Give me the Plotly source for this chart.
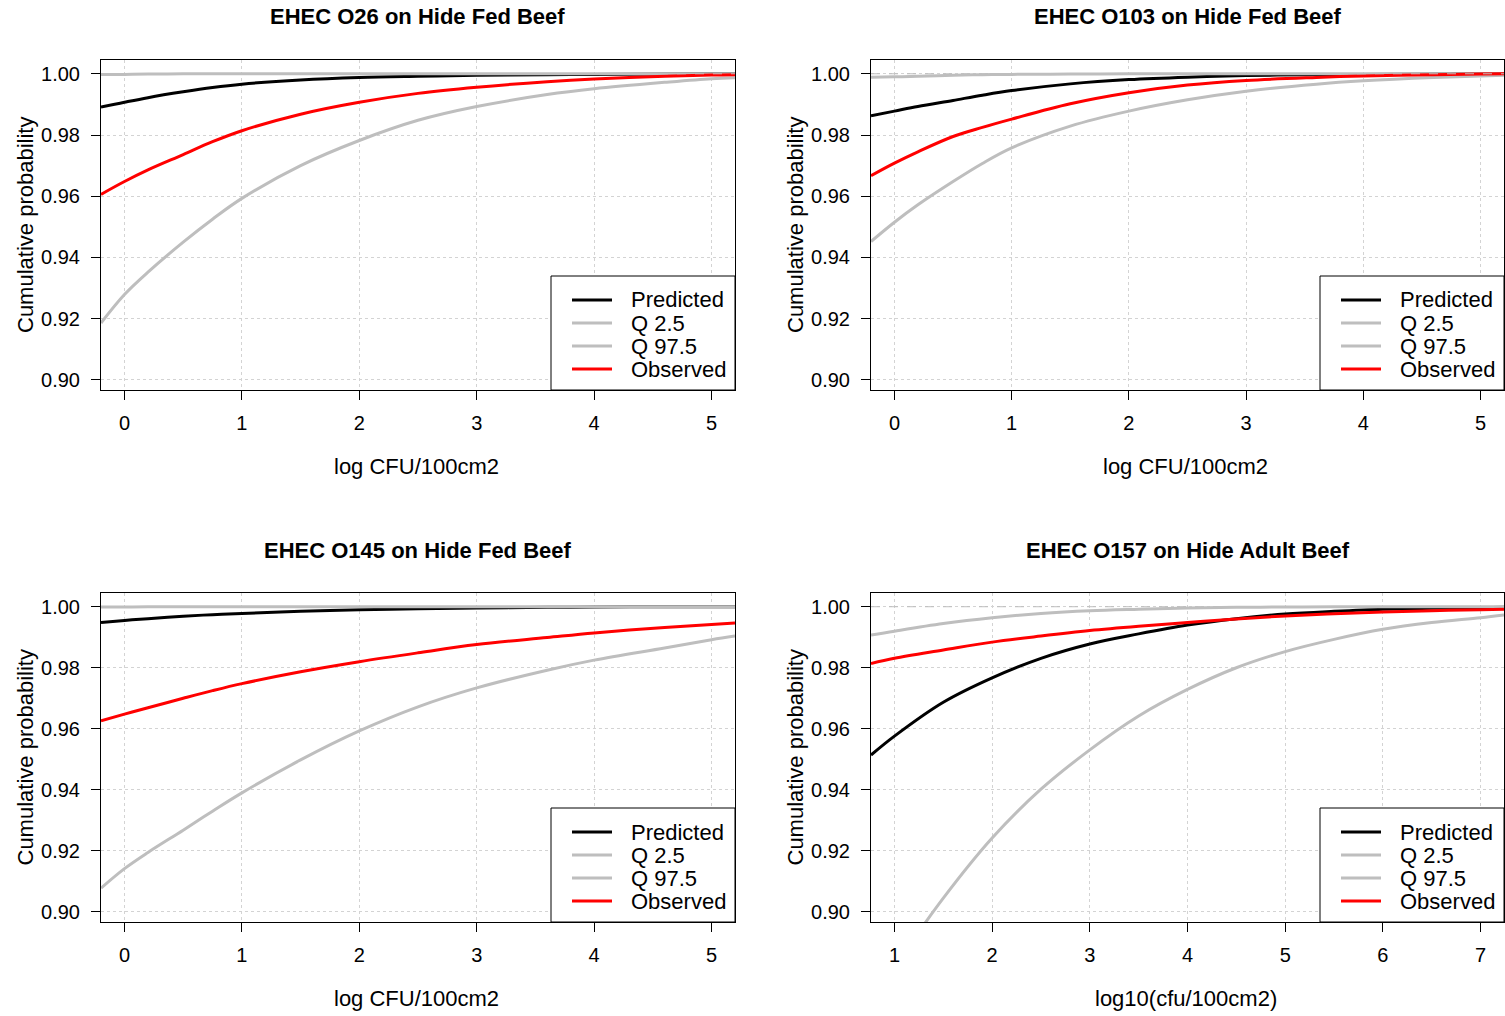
import plotly.graph_objects as go

W, H = 1505, 1016

# ---------------- data ----------------
titles = ["EHEC O26 on Hide Fed Beef", "EHEC O103 on Hide Fed Beef",
          "EHEC O145 on Hide Fed Beef", "EHEC O157 on Hide Adult Beef"]
xtitles = ["log CFU/100cm2", "log CFU/100cm2", "log CFU/100cm2", "log10(cfu/100cm2)"]
series_names = ["Predicted", "Q 2.5", "Q 97.5", "Observed"]

x_fed = [-0.2, 0, 0.2, 0.5, 0.75, 1, 1.5, 2, 2.5, 3, 3.6, 4, 4.6, 5, 5.2]
x_adult = [0.76, 1, 1.5, 2, 2.5, 3, 3.5, 4, 4.5, 5, 5.5, 6, 6.5, 7, 7.24]

o26_pred = [0.9891, 0.9907, 0.9922, 0.9941, 0.9955, 0.9966, 0.9980, 0.9988, 0.9992, 0.9995, 0.9997, 0.9998, 0.9999, 1.0, 1.0]
o26_q025 = [0.9186, 0.9279, 0.9352, 0.9450, 0.9525, 0.9593, 0.9700, 0.9782, 0.9848, 0.9893, 0.9932, 0.9951, 0.9972, 0.9984, 0.9987]
o26_q975 = [0.9998, 0.9998, 0.9999, 1.0, 1.0, 1.0, 1.0, 1.0, 1.0, 1.0, 1.0, 1.0, 1.0, 1.0, 1.0]
o26_obs = [0.9606, 0.9648, 0.9686, 0.9736, 0.9778, 0.9814, 0.9868, 0.9907, 0.9936, 0.9956, 0.9974, 0.9983, 0.9992, 0.9996, 0.9997]

o103_pred = [0.9863, 0.9878, 0.9893, 0.9913, 0.9930, 0.9945, 0.9967, 0.9981, 0.9989, 0.9994, 0.9997, 0.9998, 0.9999, 1.0, 1.0]
o103_q025 = [0.9452, 0.9515, 0.9572, 0.9648, 0.9707, 0.9758, 0.9829, 0.9878, 0.9915, 0.9943, 0.9966, 0.9977, 0.9988, 0.9993, 0.9995]
o103_q975 = [0.9989, 0.9990, 0.9992, 0.9995, 0.9997, 0.9998, 0.9999, 1.0, 1.0, 1.0, 1.0, 1.0, 1.0, 1.0, 1.0]
o103_obs = [0.9667, 0.9708, 0.9745, 0.9795, 0.9825, 0.9852, 0.9902, 0.9938, 0.9963, 0.9978, 0.9988, 0.9993, 0.9997, 0.9999, 1.0]

o145_pred = [0.9948, 0.9955, 0.9961, 0.9969, 0.9974, 0.9978, 0.9985, 0.9990, 0.9993, 0.9996, 0.9998, 0.9999, 1.0, 1.0, 1.0]
o145_q025 = [0.9078, 0.9142, 0.9195, 0.9268, 0.9330, 0.9390, 0.9498, 0.9593, 0.9672, 0.9734, 0.9792, 0.9825, 0.9865, 0.9892, 0.9904]
o145_q975 = [0.9999, 0.9999, 1.0, 1.0, 1.0, 1.0, 1.0, 1.0, 1.0, 1.0, 1.0, 1.0, 1.0, 1.0, 1.0]
o145_obs = [0.9626, 0.9648, 0.9669, 0.9700, 0.9725, 0.9748, 0.9787, 0.9820, 0.9849, 0.9876, 0.9899, 0.9914, 0.9932, 0.9942, 0.9947]

o157_pred = [0.9514, 0.9576, 0.9687, 0.9767, 0.9831, 0.9878, 0.9911, 0.9940, 0.9961, 0.9976, 0.9985, 0.9992, 0.9995, 0.9997, 0.9998]
o157_q025 = [None, 0.8820, 0.9045, 0.9242, 0.9402, 0.9531, 0.9642, 0.9729, 0.9800, 0.9853, 0.9893, 0.9926, 0.9948, 0.9964, 0.9973]
o157_q975 = [0.9907, 0.9920, 0.9945, 0.9964, 0.9978, 0.9987, 0.9992, 0.9996, 0.9998, 0.9999, 1.0, 1.0, 1.0, 1.0, 1.0]
o157_obs = [0.9814, 0.9831, 0.9858, 0.9884, 0.9904, 0.9922, 0.9936, 0.9948, 0.9960, 0.9970, 0.9977, 0.9983, 0.9987, 0.9990, 0.9992]

x_ticks_fed = [0, 1, 2, 3, 4, 5]
x_ticks_adult = [1, 2, 3, 4, 5, 6, 7]
y_ticks = [0.90, 0.92, 0.94, 0.96, 0.98, 1.00]
y_ticklabels = ["0.90", "0.92", "0.94", "0.96", "0.98", "1.00"]

panels = [
    dict(x=x_fed, s=[o26_pred, o26_q025, o26_q975, o26_obs], xr=[-0.2, 5.2], xt=x_ticks_fed),
    dict(x=x_fed, s=[o103_pred, o103_q025, o103_q975, o103_obs], xr=[-0.2, 5.2], xt=x_ticks_fed),
    dict(x=x_fed, s=[o145_pred, o145_q025, o145_q975, o145_obs], xr=[-0.2, 5.2], xt=x_ticks_fed),
    dict(x=x_adult, s=[o157_pred, o157_q025, o157_q975, o157_obs], xr=[0.76, 7.24], xt=x_ticks_adult),
]

colors = ["#000000", "#BEBEBE", "#BEBEBE", "#FF0000"]
FONT = "Liberation Sans, Arial, sans-serif"

# plot regions in pixels (left, top, right, bottom)
boxes = [(101, 60, 735, 390), (871, 60, 1504, 390),
         (101, 593, 735, 922), (871, 593, 1504, 922)]


def px(x):
    return x / W


def py(y):
    return 1 - y / H


fig = go.Figure()
layout = dict(width=W, height=H, margin=dict(l=0, r=0, t=0, b=0),
              plot_bgcolor="white", paper_bgcolor="white", showlegend=False,
              font=dict(family=FONT, color="black"))
shapes = []
annotations = []

for i, (p, b) in enumerate(zip(panels, boxes)):
    k = "" if i == 0 else str(i + 1)
    xa, ya = "x" + k, "y" + k
    for name, vals, col in zip(series_names, p["s"], colors):
        fig.add_trace(go.Scatter(x=p["x"], y=vals, mode="lines", name=name,
                                 line=dict(color=col, width=3, shape="spline", smoothing=1.0),
                                 connectgaps=False, xaxis=xa, yaxis=ya))
    # dashed reference line at 1 drawn after the series
    fig.add_trace(go.Scatter(x=p["xr"], y=[1.0, 1.0], mode="lines",
                             line=dict(color="#BEBEBE", width=1, dash="dash"),
                             xaxis=xa, yaxis=ya, hoverinfo="skip"))
    l, t, r, bt = b
    axis_common = dict(showline=True, mirror=True, linecolor="black", linewidth=1,
                       ticks="outside", ticklen=9, tickcolor="black", tickwidth=1,
                       showgrid=True, gridcolor="#D3D3D3", griddash="dot", gridwidth=1,
                       zeroline=False, tickfont=dict(size=20, family=FONT, color="black"))
    layout["xaxis" + k] = dict(axis_common, domain=[px(l), px(r)], range=p["xr"],
                               tickvals=p["xt"], anchor=ya, ticklabelstandoff=6)
    layout["yaxis" + k] = dict(axis_common, domain=[py(bt), py(t)], range=[0.8967, 1.0045],
                               tickvals=y_ticks, ticktext=y_ticklabels, anchor=xa,
                               ticklabelstandoff=7)
    cx = (l + r) / 2
    # title
    annotations.append(dict(text="<b>" + titles[i] + "</b>", x=px(cx), y=py(t - 43),
                            xref="paper", yref="paper", showarrow=False,
                            xanchor="center", yanchor="middle",
                            font=dict(size=22, family=FONT, color="black")))
    # x title
    annotations.append(dict(text=xtitles[i], x=px(cx - 2), y=py(bt + 76),
                            xref="paper", yref="paper", showarrow=False,
                            xanchor="center", yanchor="middle",
                            font=dict(size=22, family=FONT, color="black")))
    # y title
    annotations.append(dict(text="Cumulative probability", x=px(l - 76), y=py((t + bt) / 2),
                            xref="paper", yref="paper", showarrow=False, textangle=-90,
                            xanchor="center", yanchor="middle",
                            font=dict(size=22, family=FONT, color="black")))
    # legend box
    lx0, ly0 = r - 184, bt - 114
    shapes.append(dict(type="rect", xref="paper", yref="paper",
                       x0=px(lx0), x1=px(r), y0=py(bt), y1=py(ly0),
                       line=dict(color="black", width=1), fillcolor="white", layer="above"))
    for j, (name, col) in enumerate(zip(series_names, colors)):
        yy = ly0 + 24 + j * 23
        shapes.append(dict(type="line", xref="paper", yref="paper",
                           x0=px(lx0 + 21), x1=px(lx0 + 61), y0=py(yy), y1=py(yy),
                           line=dict(color=col, width=3), layer="above"))
        annotations.append(dict(text=name, x=px(lx0 + 78), y=py(yy), xref="paper", yref="paper",
                                showarrow=False, xanchor="left", yanchor="middle",
                                font=dict(size=22, family=FONT, color="black")))

layout["shapes"] = shapes
layout["annotations"] = annotations
fig.update_layout(**layout)
fig.write_html("out.html", config={"displayModeBar": False},
               post_script="document.body.style.margin='0px';document.body.style.overflow='hidden';")
